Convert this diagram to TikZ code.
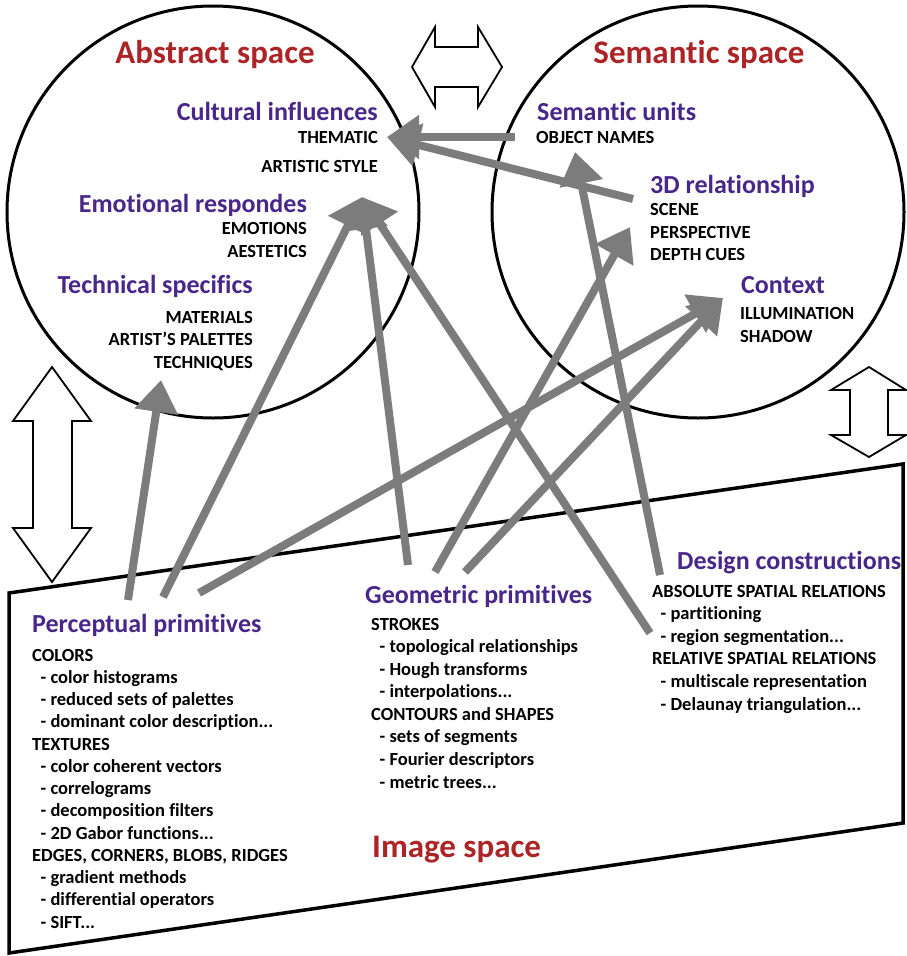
\documentclass[tikz,border=0pt]{standalone}
\usepackage{fontspec}
\setmainfont{Carlito}[Ligatures={CommonOff}]
\usetikzlibrary{arrows.meta}
\definecolor{spacered}{RGB}{172,36,38}
\definecolor{headpurple}{RGB}{72,38,138}
\definecolor{linkgray}{RGB}{124,124,124}
\newcommand{\itm}{\hspace*{8.5pt}- }
\newcommand{\dts}{...}

\begin{document}
\begin{tikzpicture}[x=1pt, y=-1pt,
  space/.style={font=\fontsize{33}{35}\selectfont\bfseries, text=spacered, inner sep=0pt},
  head/.style={font=\fontsize{26}{28}\selectfont\bfseries, text=headpurple, inner sep=0pt},
  item/.style={font=\fontsize{18.5}{22}\selectfont\bfseries, inner sep=0pt},
  region/.style={circle, draw, line width=3pt, minimum size=412pt, inner sep=0pt},
  dblarrow/.style={draw, line width=1.8pt, fill=white},
  link/.style={draw=linkgray, line width=8pt, -{Triangle[length=32pt, width=42pt]}},
]
\useasboundingbox (0,0) rectangle (907,956);

% === the three spaces ===
\node[region] (abstract) at (213,212) {};
\node[region] (semantic) at (698,212) {};
\draw[line width=3.5pt, line join=miter] (9,593) -- (903,464) -- (903,823) -- (9,953) -- cycle;

% double arrows between the spaces
\draw[dblarrow] (412,67) -- (435,27) -- (435,47) -- (478,47) -- (478,27) -- (502,67)
  -- (478,107) -- (478,87) -- (435,87) -- (435,107) -- cycle;
\draw[dblarrow] (52,367) -- (91,421) -- (72,421) -- (72,528) -- (91,528) -- (52,582)
  -- (13,528) -- (33,528) -- (33,421) -- (13,421) -- cycle;
\draw[dblarrow] (869,367) -- (906,390) -- (888,390) -- (888,435) -- (906,435) -- (869,457)
  -- (831,435) -- (850,435) -- (850,390) -- (831,390) -- cycle;

% === Abstract space ===
\node[space, anchor=base] (abs-t) at (215,63) {Abstract space};
\node[head, anchor=base east] (cult) at (378,120) {Cultural influences};
\node[item, anchor=base east] (cult1) at (378,143) {THEMATIC};
\node[item, anchor=base east] (cult2) at (378,172) {ARTISTIC STYLE};
\node[head, anchor=base east] (emo) at (307,212) {Emotional respondes};
\node[item, anchor=base east] (emo1) at (307,234) {EMOTIONS};
\node[item, anchor=base east] (emo2) at (307,257) {AESTETICS};
\node[head, anchor=base east] (tech) at (253,293) {Technical specifics};
\node[item, anchor=base east] (tech1) at (253,323) {MATERIALS};
\node[item, anchor=base east] (tech2) at (253,345) {ARTIST’S PALETTES};
\node[item, anchor=base east] (tech3) at (253,368) {TECHNIQUES};

% === Semantic space ===
\node[space, anchor=base] (sem-t) at (699,63) {Semantic space};
\node[head, anchor=base west] (unit) at (537,120) {Semantic units};
\node[item, anchor=base west] (unit1) at (536,143) {OBJECT NAMES};
\node[head, anchor=base west] (rel) at (650,193) {3D relationship};
\node[item, anchor=base west] (rel1) at (650,215) {SCENE};
\node[item, anchor=base west] (rel2) at (650,238) {PERSPECTIVE};
\node[item, anchor=base west] (rel3) at (650,260) {DEPTH CUES};
\node[head, anchor=base west] (ctx) at (741,293) {Context};
\node[item, anchor=base west] (ctx1) at (740,319) {ILLUMINATION};
\node[item, anchor=base west] (ctx2) at (740,342) {SHADOW};

% === Image space ===
\node[space, anchor=base west] (img-t) at (372,857) {Image space};
\node[head, anchor=base west] (perc) at (32,632) {Perceptual primitives};
\foreach \txt [count=\i from 0] in {COLORS, \itm color histograms, \itm reduced sets of palettes,
    \itm dominant color description\dts, TEXTURES, \itm color coherent vectors, \itm correlograms,
    \itm decomposition filters, \itm 2D Gabor functions\dts, {EDGES, CORNERS, BLOBS, RIDGES},
    \itm gradient methods, \itm differential operators, \itm SIFT\dts}
  \node[item, anchor=base west] (perc\i) at (32,{661+22.25*\i}) {\txt};
\node[head, anchor=base west] (geom) at (365,603) {Geometric primitives};
\foreach \txt [count=\i from 0] in {STROKES, \itm topological relationships, \itm Hough transforms,
    \itm interpolations\dts, CONTOURS and SHAPES, \itm sets of segments, \itm Fourier descriptors,
    \itm metric trees\dts}
  \node[item, anchor=base west] (geom\i) at (371,{630+22.57*\i}) {\txt};
\node[head, anchor=base west] (design) at (677,569) {Design constructions};
\foreach \txt [count=\i from 0] in {ABSOLUTE SPATIAL RELATIONS, \itm partitioning,
    \itm region segmentation\dts, RELATIVE SPATIAL RELATIONS, \itm multiscale representation,
    \itm Delaunay triangulation\dts}
  \node[item, anchor=base west] (design\i) at (652,{597+22.6*\i}) {\txt};

% === links ===
\coordinate (perc-a) at (128,600);
\coordinate (perc-b) at (163,597);
\coordinate (perc-c) at (199,593);
\coordinate (geom-a) at (408,565);
\coordinate (geom-b) at (435,572);
\coordinate (geom-c) at (465,572);
\coordinate (design-a) at (660,575);
\coordinate (design-b) at (650,633);
\coordinate (unit-a) at (515,137);
\coordinate (rel-a) at (633,199);
\coordinate (tech-tip) at (161,380);
\coordinate (emo-tip) at (362,197);
\coordinate (cult-tip) at (387,137);
\coordinate (unit-tip) at (575,152);
\coordinate (rel-tip) at (630,227);
\coordinate (ctx-tip) at (723,298);

\draw[link] (perc-a) -- (tech-tip);
\draw[link] (perc-b) -- (emo-tip);
\draw[link] (perc-c) -- (ctx-tip);
\draw[link] (geom-a) -- (emo-tip);
\draw[link] (geom-b) -- (rel-tip);
\draw[link] (geom-c) -- (ctx-tip);
\draw[link] (design-a) -- (unit-tip);
\draw[link] (design-b) -- (emo-tip);
\draw[link] (unit-a) -- (cult-tip);
\draw[link] (rel-a) -- (cult-tip);

\end{tikzpicture}
\end{document}
